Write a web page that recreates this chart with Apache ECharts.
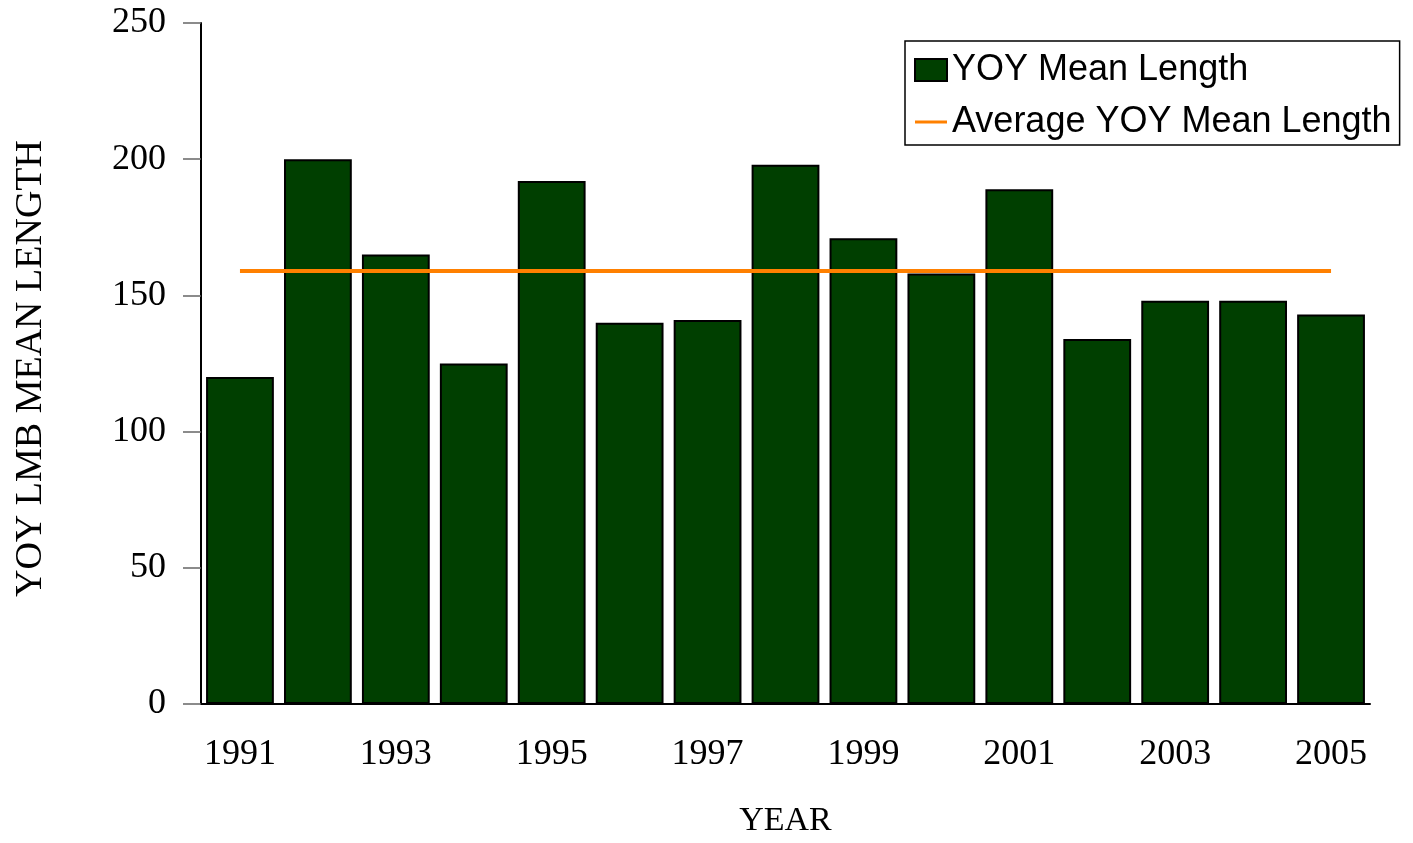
<!DOCTYPE html>
<html>
<head>
<meta charset="utf-8">
<script src="https://cdn.jsdelivr.net/npm/echarts@6/dist/echarts.min.js"></script>
<style>html,body{margin:0;padding:0;background:#fff;overflow:hidden;}#c{width:1413px;height:843px;}</style>
</head>
<body>
<div id="c"></div>
<script>
const years = ['1991','1992','1993','1994','1995','1996','1997','1998','1999','2000','2001','2002','2003','2004','2005'];
const meanLength = [120, 200, 165, 125, 192, 140, 141, 198, 171, 158, 189, 134, 148, 148, 143];
const averageLength = [159, 159, 159, 159, 159, 159, 159, 159, 159, 159, 159, 159, 159, 159, 159];
const barName = 'YOY Mean Length';
const lineName = 'Average YOY Mean Length';

const serif = 'Liberation Serif, Times New Roman, serif';
const chart = echarts.init(document.getElementById('c'));
chart.setOption({
  animation: false,
  backgroundColor: '#fff',
  grid: { left: 201, width: 1169, top: 23, height: 685, containLabel: false },
  legend: {
    orient: 'vertical',
    left: 905, top: 41,
    padding: [11, 8, 5, 9],
    itemGap: 16,
    itemWidth: 32, itemHeight: 22,
    symbolKeepAspect: false,
    borderColor: '#000', borderWidth: 1.5,
    textStyle: { fontFamily: 'Liberation Sans, Arial, sans-serif', fontSize: 36, color: '#000' },
    data: [
      { name: barName, icon: 'rect' },
      { name: lineName, icon: 'path://M0,0L0,0M0,9.5H32V12.5H0ZM0,22L0,22' }
    ]
  },
  xAxis: {
    type: 'category',
    data: years,
    name: 'YEAR',
    nameLocation: 'middle',
    nameGap: 100,
    nameTextStyle: { fontFamily: serif, fontSize: 34, color: '#000' },
    axisLine: { lineStyle: { color: '#000', width: 2 } },
    axisTick: { alignWithLabel: true, interval: 1, length: 17, lineStyle: { color: '#444', width: 1.5 } },
    axisLabel: { interval: 1, margin: 33, fontFamily: serif, fontSize: 36, color: '#000' }
  },
  yAxis: {
    type: 'value',
    min: 0, max: 250, interval: 50,
    name: 'YOY LMB MEAN LENGTH',
    nameLocation: 'middle',
    nameRotate: 90,
    nameGap: 151,
    nameTextStyle: { fontFamily: serif, fontSize: 38, color: '#000', padding: [0, 10, 0, 0] },
    splitLine: { show: false },
    axisLine: { show: true, lineStyle: { color: '#000', width: 2 } },
    axisTick: { show: true, length: 18, lineStyle: { color: '#666', width: 1.5 } },
    axisLabel: { margin: 35, fontFamily: serif, fontSize: 36, color: '#000' }
  },
  series: [
    {
      name: barName,
      type: 'bar',
      data: meanLength,
      barCategoryGap: '13%',
      itemStyle: { color: '#003F00', borderColor: '#000', borderWidth: 2 }
    },
    {
      name: lineName,
      type: 'line',
      data: averageLength,
      symbol: 'none',
      itemStyle: { color: '#FF8000' },
      lineStyle: { color: '#FF8000', width: 4 }
    }
  ]
});
</script>
</body>
</html>
